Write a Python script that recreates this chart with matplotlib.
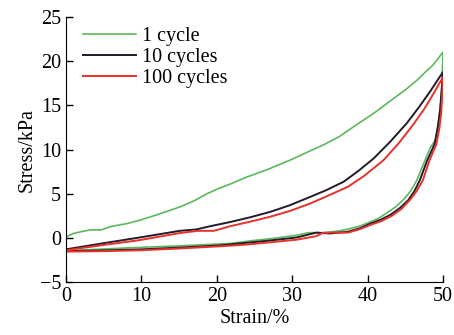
import numpy as np
import matplotlib.pyplot as plt

plt.rcParams['font.family'] = ['Liberation Serif', 'DejaVu Serif']

# 1 cycle: loading then unloading
strain_1_up = [0, 1, 2, 3.2, 4.7, 6, 8, 9.8, 12, 15.1, 17, 18.7, 20, 21.8, 24, 26.6, 29.7, 32, 34.3, 36.3, 38.5, 40.8, 43, 45.2, 46.6, 47.8, 48.7, 50]
stress_1_up = [0.1, 0.5, 0.7, 0.9, 0.9, 1.3, 1.6, 2.0, 2.6, 3.5, 4.2, 5.0, 5.5, 6.1, 6.9, 7.7, 8.8, 9.7, 10.6, 11.5, 12.8, 14.1, 15.5, 16.9, 17.9, 18.9, 19.6, 21.05]
strain_1_dn = [50, 49.9, 49.8, 49.4, 48.9, 48.3, 47.6, 46.5, 45.7, 44.7, 43.7, 42.5, 41.4, 40.3, 39, 37.4, 36.3, 34.1, 32.2, 30.6, 27.5, 24.8, 21.8, 15, 8.9, 4, 0]
stress_1_dn = [21.05, 19.0, 16.3, 12.6, 11.0, 10.2, 8.8, 6.5, 5.3, 4.3, 3.5, 2.8, 2.2, 1.8, 1.35, 1.0, 0.8, 0.58, 0.6, 0.3, -0.05, -0.3, -0.62, -0.9, -1.1, -1.3, -1.45]

# 10 cycles
strain_10_up = [0, 5, 9.8, 15.1, 17.3, 19, 21.8, 24.5, 27.1, 29.7, 32.4, 34.5, 36.8, 38.8, 40.8, 43, 45.2, 46.8, 48.3, 49.3, 50]
stress_10_up = [-1.3, -0.6, 0.05, 0.8, 0.96, 1.3, 1.8, 2.35, 2.95, 3.7, 4.65, 5.4, 6.35, 7.6, 9.0, 10.9, 13.0, 14.8, 16.6, 17.9, 18.8]
strain_10_dn = [50, 49.8, 49.6, 49.3, 48.9, 48.5, 47.9, 46.9, 46.2, 45.4, 44.3, 43, 41.7, 40.3, 39, 37.4, 35, 33.2, 30.6, 27, 24, 20.4, 15, 10, 5, 0]
stress_10_dn = [18.8, 16.7, 14.5, 12.6, 10.7, 9.9, 8.8, 6.5, 5.3, 4.3, 3.4, 2.6, 2.05, 1.6, 1.1, 0.7, 0.5, 0.6, 0.05, -0.3, -0.55, -0.85, -1.1, -1.3, -1.42, -1.5]

# 100 cycles
strain_100_up = [0, 5, 9.8, 15.1, 17.5, 19.6, 21.8, 24.5, 27.1, 29.7, 32.4, 34.8, 37.4, 39.5, 40.8, 42.1, 44.2, 46.1, 47.5, 48.7, 49.5, 50]
stress_100_up = [-1.4, -0.8, -0.25, 0.55, 0.8, 0.8, 1.33, 1.85, 2.4, 3.05, 3.9, 4.8, 5.8, 7.0, 7.9, 8.8, 10.8, 12.9, 14.6, 16.3, 17.5, 18.2]
strain_100_dn = [50, 49.9, 49.75, 49.5, 49.1, 48.7, 48.2, 47.3, 46.5, 45.6, 44.5, 43.2, 41.8, 40.3, 39, 37.4, 35.5, 34.1, 33.2, 30.6, 27, 24, 20.4, 15, 10, 5, 0]
stress_100_dn = [18.2, 16.5, 14.2, 12.4, 10.6, 9.8, 8.8, 6.5, 5.3, 4.3, 3.3, 2.5, 1.9, 1.45, 1.0, 0.6, 0.6, 0.58, 0.2, -0.2, -0.5, -0.75, -0.95, -1.2, -1.4, -1.5, -1.55]

fig = plt.figure(figsize=(4.54, 3.35), dpi=100)
ax = fig.add_axes([0.145, 0.158, 0.831, 0.791])

ax.plot(strain_1_up + strain_1_dn, stress_1_up + stress_1_dn, color='#5cb85c', lw=1.2, label='1 cycle')
ax.plot(strain_10_up + strain_10_dn, stress_10_up + stress_10_dn, color='#231a2a', lw=1.4, label='10 cycles')
ax.plot(strain_100_up + strain_100_dn, stress_100_up + stress_100_dn, color='#e8312a', lw=1.4, label='100 cycles')

ax.set_xlim(0, 50)
ax.set_ylim(-5, 25)
ax.set_xticks([0, 10, 20, 30, 40, 50])
ax.set_yticks([-5, 0, 5, 10, 15, 20, 25])
ax.set_yticklabels(['\u22125', '0', '5', '10', '15', '20', '25'])
ax.tick_params(direction='in', length=5, width=1, labelsize=14.5)
ax.spines['top'].set_visible(False)
ax.spines['right'].set_visible(False)
ax.set_xlabel('Strain/%', fontsize=14.5, labelpad=2)
ax.set_ylabel('Stress/kPa', fontsize=14.5, labelpad=2)
ax.legend(loc='upper left', bbox_to_anchor=(0.02, 1.0), frameon=False, fontsize=14.5,
          handlelength=2.6, labelspacing=0.1, handletextpad=0.3, borderaxespad=0.1)

plt.savefig('out.png', dpi=100)
